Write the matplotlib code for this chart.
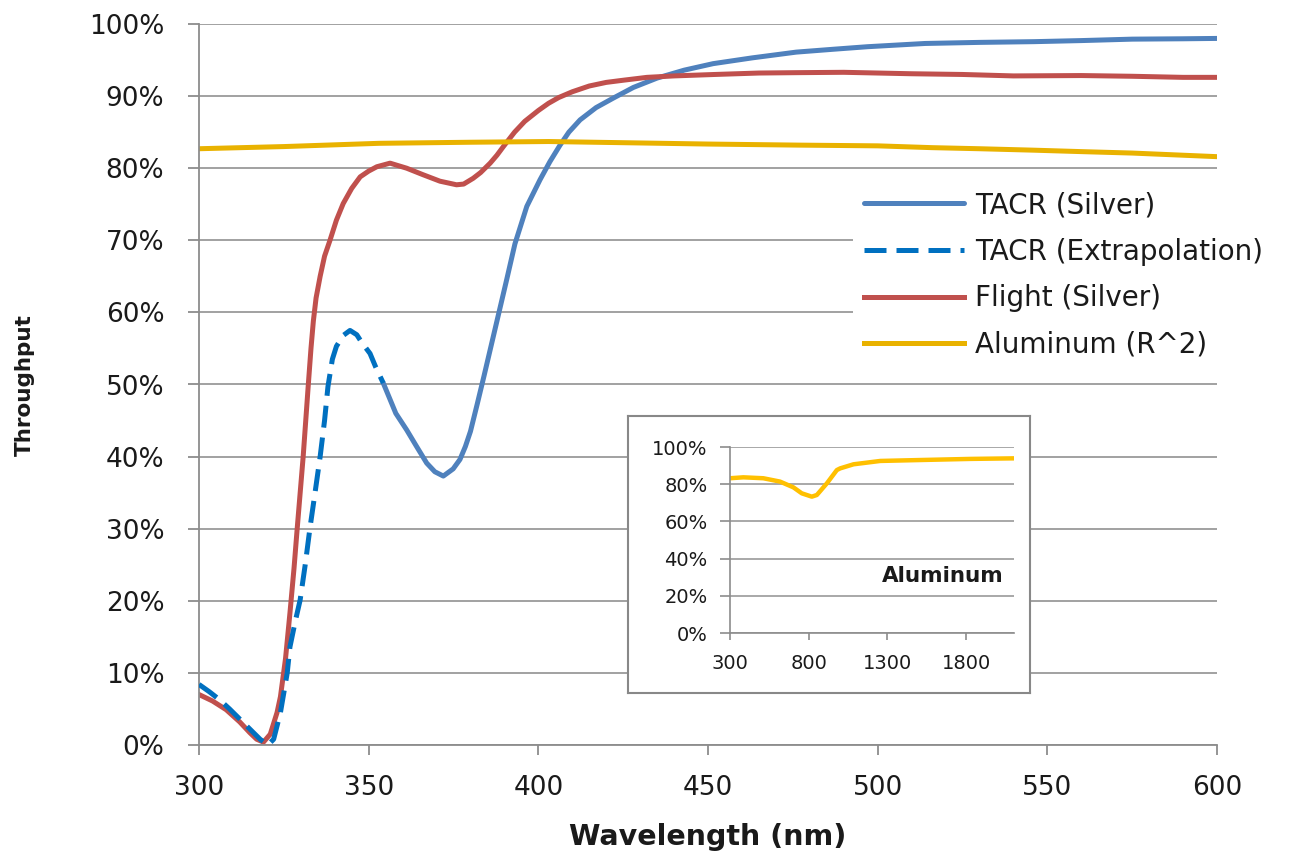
import matplotlib
matplotlib.use("Agg")
import matplotlib.pyplot as plt
from matplotlib.ticker import PercentFormatter

# TACR (Silver) measured
tacr_nm = [354.3, 358, 361.2, 364, 367.1, 369.5, 372, 374.9, 376.9, 378.5, 380, 382, 384,
           386, 388.2, 390.7, 393.1, 396.6, 400.5, 403.4, 406.4, 409, 412.3, 417, 422,
           428, 435, 443, 451.5, 463, 476, 487, 497, 514, 530, 546, 560, 575, 590, 600]
tacr_val = [50.2, 46.0, 43.7, 41.5, 39.1, 37.9, 37.3, 38.3, 39.6, 41.4, 43.5, 47.3, 51.2,
            55.2, 59.6, 64.6, 69.5, 74.7, 78.4, 80.9, 83.2, 85.0, 86.7, 88.4, 89.7,
            91.2, 92.5, 93.6, 94.5, 95.3, 96.1, 96.5, 96.85, 97.3, 97.45, 97.55, 97.7,
            97.9, 97.95, 98.0]

# TACR extrapolation (dashed)
ext_nm = [300, 303, 306, 309, 312, 315, 318, 320.3, 322, 324, 326, 326.8, 328.3, 329.8,
          331.3, 332.7, 334.2, 335.7, 337, 338, 339.3, 340.5, 342.5, 344.5, 346.5, 348,
          350.4, 352, 354.3]
ext_val = [8.4, 7.4, 6.3, 5.0, 3.6, 2.2, 0.8, 0.0, 0.8, 4.5, 10.0, 13.6, 17.0, 20.1,
           25.0, 30.1, 35.0, 40.0, 45.0, 49.7, 53.5, 55.3, 56.8, 57.5, 56.9, 55.8,
           54.3, 52.5, 50.2]

# Flight (Silver)
flight_nm = [300, 304, 308, 312, 315, 317, 319, 321, 323, 324, 325.5, 326.8, 328, 328.9,
             330.7, 332.2, 333, 333.7, 334.5, 335.7, 337, 338.6, 340.5, 342.5, 345, 347.5,
             350, 352.4, 356.3, 361.2, 366, 371, 375.9, 378, 380.8, 383, 385.8, 387.8,
             389.7, 393, 396, 400, 403, 406, 410, 415, 420, 425, 432, 440, 452, 465, 476,
             490, 500, 510, 525, 540, 560, 575, 590, 600]
flight_val = [7.0, 6.1, 4.9, 3.2, 1.7, 0.8, 0.4, 1.5, 4.5, 6.7, 12.0, 18.3, 24.5, 29.8,
              40.0, 49.9, 55.0, 58.8, 62.0, 65.0, 67.8, 70.0, 72.8, 75.1, 77.2, 78.8,
              79.6, 80.2, 80.7, 80.0, 79.1, 78.2, 77.7, 77.8, 78.6, 79.4, 80.7, 81.8,
              83.0, 85.0, 86.5, 88.0, 89.0, 89.8, 90.6, 91.4, 91.9, 92.2, 92.6, 92.8,
              93.0, 93.2, 93.25, 93.3, 93.2, 93.1, 93.0, 92.8, 92.85, 92.75, 92.6, 92.6]

# Aluminum (R^2)
alu_nm = [300, 325, 353, 380, 403, 430, 450, 477, 500, 516, 530, 546, 560, 575, 590, 600]
alu_val = [82.7, 83.0, 83.45, 83.6, 83.7, 83.5, 83.35, 83.2, 83.1, 82.85, 82.7, 82.5,
           82.3, 82.1, 81.8, 81.6]

# inset: aluminum over a wide range
ins_nm = [300, 385, 512, 618, 703, 756, 820, 852, 916, 979, 1000, 1085, 1255, 1510, 1829, 2105]
ins_val = [83.2, 83.7, 83.2, 81.4, 78.3, 75.1, 73.3, 74.2, 80.5, 87.6, 88.5, 90.7, 92.5,
           93.0, 93.6, 93.9]

grid_c = "#9a9a9a"
spine_c = "#8c8c8c"
txt_c = "#1a1a1a"

fig = plt.figure(figsize=(13.01, 8.55), dpi=100)
ax = fig.add_axes([199 / 1301, 110 / 855, 1018 / 1301, 721 / 855])

lw = 3.6
l1, = ax.plot(tacr_nm, [v / 100 for v in tacr_val], color="#4F81BD", lw=lw,
              solid_capstyle="round", solid_joinstyle="round", label="TACR (Silver)")
l2, = ax.plot(ext_nm, [v / 100 for v in ext_val], color="#0070C0", lw=lw,
              dashes=(4.4, 2.0), label="TACR (Extrapolation)")
l3, = ax.plot(flight_nm, [v / 100 for v in flight_val], color="#C0504D", lw=lw,
              solid_joinstyle="round", label="Flight (Silver)")
l4, = ax.plot(alu_nm, [v / 100 for v in alu_val], color="#E9B200", lw=lw,
              label="Aluminum (R^2)")
l2.set_zorder(l3.get_zorder() + 1)

ax.set_xlim(300, 600)
ax.set_ylim(0, 1)
ax.set_xticks(range(300, 601, 50))
ax.set_yticks([i / 10 for i in range(11)])
ax.yaxis.set_major_formatter(PercentFormatter(1.0, decimals=0))
ax.grid(axis="y", color=grid_c, lw=1.3)
ax.set_axisbelow(True)
for s in ["top", "right"]:
    ax.spines[s].set_visible(False)
for s in ["left", "bottom"]:
    ax.spines[s].set_color(spine_c)
    ax.spines[s].set_linewidth(1.3)
ax.tick_params(axis="y", length=8, width=1.3, color=spine_c, pad=17, labelsize=19, labelcolor=txt_c)
ax.tick_params(axis="x", length=7.5, width=1.3, color=spine_c, pad=14, labelsize=19, labelcolor=txt_c)

fig.text(708 / 1301, 4 / 855, "Wavelength (nm)", ha="center", va="bottom",
         fontsize=20.5, fontweight="bold", color=txt_c)
fig.text(25 / 1301, (855 - 385) / 855, "Throughput", ha="center", va="center", rotation=90,
         fontsize=15.5, fontweight="bold", color=txt_c)

leg = ax.legend(handles=[l1, l2, l3, l4], loc="upper left",
                bbox_to_anchor=(853 / 1301, (855 - 180) / 855), bbox_transform=fig.transFigure,
                frameon=True, fancybox=False, edgecolor="none", facecolor="white", framealpha=1,
                fontsize=20, handlelength=3.6, handletextpad=0.4, labelspacing=0.67,
                borderpad=0.4, borderaxespad=0)
for t in leg.get_texts():
    t.set_color(txt_c)

# inset frame
frame = fig.add_axes([628 / 1301, (855 - 693) / 855, 402 / 1301, 277 / 855])
frame.set_xticks([])
frame.set_yticks([])
for s in frame.spines.values():
    s.set_color("#888888")
    s.set_linewidth(1.5)
frame.set_zorder(3)

ins = fig.add_axes([730 / 1301, (855 - 633) / 855, 284 / 1301, 186 / 855])
ins.set_zorder(4)
ins.patch.set_alpha(0)
ins.plot(ins_nm, [v / 100 for v in ins_val], color="#FFC000", lw=3.2, solid_joinstyle="round")
ins.set_xlim(300, 2105)
ins.set_ylim(0, 1)
ins.set_xticks([300, 800, 1300, 1800])
ins.set_yticks([i / 5 for i in range(6)])
ins.yaxis.set_major_formatter(PercentFormatter(1.0, decimals=0))
ins.grid(axis="y", color=grid_c, lw=1.2)
ins.set_axisbelow(True)
for s in ["top", "right"]:
    ins.spines[s].set_visible(False)
for s in ["left", "bottom"]:
    ins.spines[s].set_color(spine_c)
    ins.spines[s].set_linewidth(1.2)
ins.tick_params(axis="y", length=7, width=1.2, color=spine_c, pad=9, labelsize=14, labelcolor=txt_c)
ins.tick_params(axis="x", length=5, width=1.2, color=spine_c, pad=10, labelsize=14, labelcolor=txt_c)
ins.text(2040, 0.306, "Aluminum", ha="right", va="center", fontsize=15.5,
         fontweight="bold", color=txt_c)

fig.savefig("out.png", dpi=100)
